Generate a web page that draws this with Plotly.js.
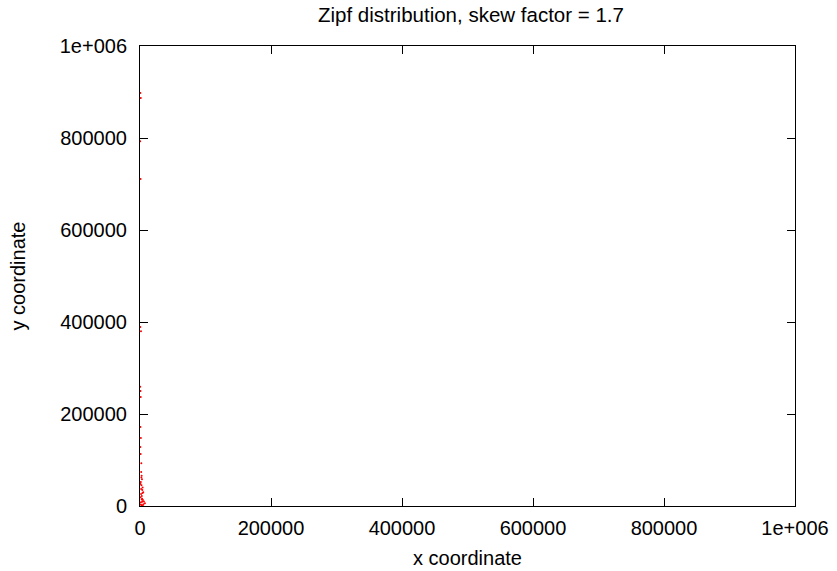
<!DOCTYPE html>
<html>
<head>
<meta charset="utf-8">
<script src="https://cdn.plot.ly/plotly-3.0.1.min.js"></script>
<style>html,body{margin:0;padding:0;background:#fff;}#chart{width:837px;height:571px;}</style>
</head>
<body>
<div id="chart"></div>
<script>
// Sampled (x, y) points drawn from a Zipf distribution, skew 1.7
const xCoords = [600, 1200, 300, 900, 500, 1500, 400, 800, 1100, 700, 1300, 600, 1000, 2000, 1800,
  2500, 3000, 1200, 2200, 4000, 3500, 5000, 7500, 1600, 2800, 900, 3200, 4500, 6000, 1400,
  2100, 800, 3800, 1700, 2600, 5200, 1000, 3300, 2400, 4200];
const yCoords = [898000, 887000, 793000, 711000, 389000, 380000, 259000, 250000, 237000, 172000,
  148000, 128000, 113000, 93000, 74000, 66000, 58000, 52000, 45000, 40000,
  35000, 30000, 6000, 26000, 22000, 19000, 16000, 13000, 10000, 8000,
  62000, 48000, 28000, 37000, 14000, 4000, 3000, 9000, 2000, 1000];

const tickValues = [0, 200000, 400000, 600000, 800000, 1000000];
const tickLabels = ['0', '200000', '400000', '600000', '800000', '1e+006'];

const font = {family: 'Liberation Sans, Arial, sans-serif', size: 20, color: '#000'};

const axisBase = {
  range: [0, 1000000],
  tickvals: tickValues,
  ticktext: tickLabels,
  ticks: 'inside',
  ticklen: 8,
  tickwidth: 1,
  tickcolor: '#000',
  showline: true,
  linecolor: '#000',
  linewidth: 1,
  mirror: 'ticks',
  showgrid: false,
  zeroline: false,
  tickfont: font,
  fixedrange: true
};

Plotly.newPlot('chart', [{
  type: 'scatter',
  mode: 'markers',
  x: xCoords,
  y: yCoords,
  marker: {color: 'red', size: 2},
  hoverinfo: 'none'
}], {
  width: 837,
  height: 571,
  margin: {l: 140, r: 42, t: 46, b: 65},
  paper_bgcolor: '#fff',
  plot_bgcolor: '#fff',
  showlegend: false,
  font: font,
  title: {text: 'Zipf distribution, skew factor = 1.7', font: {family: font.family, size: 20.5, color: '#000'}, x: 0.5627, xanchor: 'center', yref: 'container', y: 0.9737, yanchor: 'middle'},
  xaxis: Object.assign({}, axisBase, {ticklabelstandoff: 4, title: {text: 'x coordinate', font: font, standoff: 12}}),
  yaxis: Object.assign({}, axisBase, {ticklabelstandoff: 8, title: {text: 'y coordinate', font: font, standoff: 28}})
}, {staticPlot: true});
</script>
</body>
</html>
